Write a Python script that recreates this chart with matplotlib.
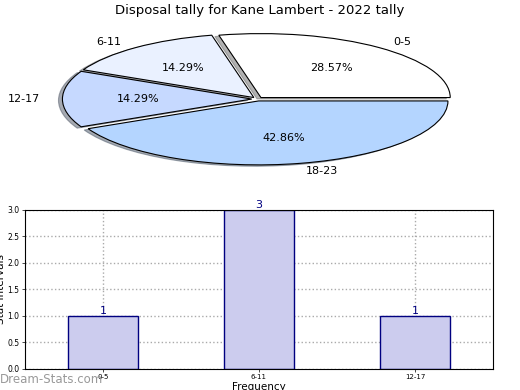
import numpy as np
import matplotlib
matplotlib.use("Agg")
import matplotlib.pyplot as plt

## data
pie_labels = ["0-5", "6-11", "12-17", "18-23"]
pie_counts = [2, 1, 1, 3]
pie_colors = ["#ffffff", "#eaf1ff", "#c6d9ff", "#b4d5ff"]

bar_labels = ["0-5", "6-11", "12-17"]
bar_counts = [1, 3, 1]

fig = plt.figure(figsize=(5.2, 3.9), dpi=100)

#### pie on top (squashed into an ellipse)
ax1 = fig.add_axes([0.04, 0.541, 0.91, 0.41])
ax1.pie(pie_counts, labels=pie_labels, colors=pie_colors, autopct="%1.2f%%",
        startangle=0, explode=[0.03] * 4,
        shadow=dict(ox=-0.015, oy=-0.015, shade=0.6),
        labeldistance=1.12, pctdistance=0.6,
        wedgeprops=dict(edgecolor="black", linewidth=0.8),
        textprops=dict(fontsize=8))
ax1.set_aspect("auto")
ax1.set_xlim(-1.25, 1.25)
ax1.set_ylim(-1.25, 1.25)
fig.text(0.5, 0.972, "Disposal tally for Kane Lambert - 2022 tally",
         ha="center", va="center", fontsize=9.5)

#### bar chart underneath
ax2 = fig.add_axes([0.048, 0.054, 0.9, 0.408])
x = np.arange(len(bar_labels))
ax2.bar(x, bar_counts, width=0.45, color="#ccccee", edgecolor="#000080",
        linewidth=1, zorder=2)
for xi, v in zip(x, bar_counts):
    ax2.text(xi, v, str(v), ha="center", va="bottom", color="#000080",
             fontsize=8, zorder=3)
ax2.set_xlim(-0.5, 2.5)
ax2.set_ylim(0, 3.0)
ax2.set_xticks(x)
ax2.set_xticklabels(bar_labels, fontsize=5)
ax2.set_yticks(np.arange(0, 3.01, 0.5))
ax2.set_yticklabels([f"{t:.1f}" for t in np.arange(0, 3.01, 0.5)], fontsize=5.5)
ax2.tick_params(length=2, width=0.5, pad=2)
ax2.grid(True, linestyle=":", color="#aaaaaa", linewidth=1, zorder=0)
ax2.set_axisbelow(True)
ax2.set_xlabel("Frequency", fontsize=7.5, labelpad=1)
ax2.set_ylabel("Stat Intervals", fontsize=7.5, labelpad=1)

fig.text(0.0, 0.01, "Dream-Stats.com", color="#999999", fontsize=8.5,
         ha="left", va="bottom")

fig.savefig("out.png", dpi=100)
